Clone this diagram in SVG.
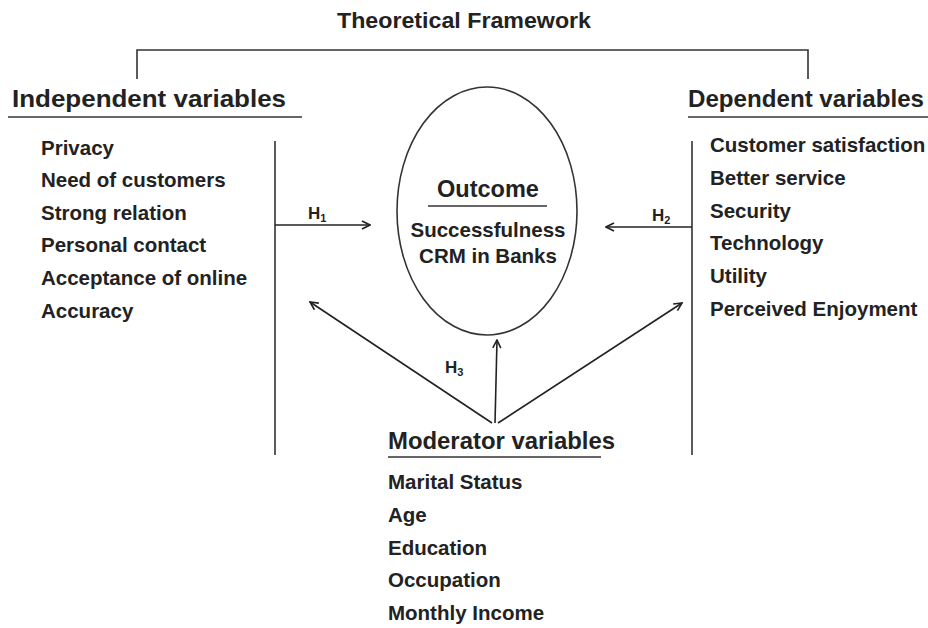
<svg xmlns="http://www.w3.org/2000/svg" width="928" height="628" viewBox="0 0 928 628">
<defs>
<marker id="ah" viewBox="0 0 10 10" refX="9" refY="5" markerWidth="10" markerHeight="10" markerUnits="userSpaceOnUse" orient="auto">
<path d="M1,1 L9,5 L1,9" fill="none" stroke="#222" stroke-width="1.6"/>
</marker>
<style>
text{font-family:"Liberation Sans",Arial,sans-serif;font-weight:bold;fill:#222}
.h{font-size:24px}
.t{font-size:20.5px}
.sub{font-size:11px}
.ln{stroke:#333;stroke-width:1.6;fill:none}
.ar{stroke:#222;stroke-width:1.6;fill:none;marker-end:url(#ah)}
</style>
</defs>
<rect width="928" height="628" fill="#fff"/>
<g id="title">
<text x="464" y="28" text-anchor="middle" style="font-size:22px" textLength="254" lengthAdjust="spacingAndGlyphs">Theoretical Framework</text>
<path class="ln" d="M137,79 V50 H808 V79"/>
</g>
<g id="independent">
<text class="h" x="12" y="107" textLength="274" lengthAdjust="spacingAndGlyphs">Independent variables</text>
<line class="ln" x1="8" y1="117" x2="302" y2="117"/>
<text class="t" x="41" y="155">Privacy</text>
<text class="t" x="41" y="187">Need of customers</text>
<text class="t" x="41" y="220">Strong relation</text>
<text class="t" x="41" y="252">Personal contact</text>
<text class="t" x="41" y="285">Acceptance of online</text>
<text class="t" x="41" y="318">Accuracy</text>
<line class="ln" x1="275" y1="141" x2="275" y2="455"/>
</g>
<g id="dependent">
<text class="h" x="688" y="107" textLength="236" lengthAdjust="spacingAndGlyphs">Dependent variables</text>
<line class="ln" x1="688" y1="117" x2="928" y2="117"/>
<text class="t" x="710" y="152">Customer satisfaction</text>
<text class="t" x="710" y="185">Better service</text>
<text class="t" x="710" y="218">Security</text>
<text class="t" x="710" y="250">Technology</text>
<text class="t" x="710" y="283">Utility</text>
<text class="t" x="710" y="316">Perceived Enjoyment</text>
<line class="ln" x1="692" y1="141" x2="692" y2="455"/>
</g>
<g id="outcome">
<ellipse class="ln" cx="487" cy="211" rx="90" ry="124"/>
<text x="488" y="197" text-anchor="middle" style="font-size:23.5px">Outcome</text>
<line class="ln" x1="428" y1="206" x2="547" y2="206"/>
<text class="t" x="488" y="237" text-anchor="middle">Successfulness</text>
<text class="t" x="488" y="263" text-anchor="middle">CRM in Banks</text>
</g>
<g id="moderator">
<text class="h" x="388" y="449" textLength="227" lengthAdjust="spacingAndGlyphs">Moderator variables</text>
<line class="ln" x1="388" y1="457" x2="601" y2="457"/>
<text class="t" x="388" y="489">Marital Status</text>
<text class="t" x="388" y="522">Age</text>
<text class="t" x="388" y="555">Education</text>
<text class="t" x="388" y="587">Occupation</text>
<text class="t" x="388" y="620">Monthly Income</text>
</g>
<g id="connectors">
<line class="ar" x1="275" y1="225" x2="370" y2="225"/>
<line class="ar" x1="692" y1="227" x2="606" y2="227"/>
<line class="ar" x1="492" y1="423" x2="310" y2="302"/>
<line class="ar" x1="495" y1="423" x2="497" y2="340"/>
<line class="ar" x1="498" y1="423" x2="682" y2="303"/>
<text style="font-size:17px" x="308" y="219">H<tspan class="sub" dy="3">1</tspan></text>
<text style="font-size:17px" x="652" y="221">H<tspan class="sub" dy="3">2</tspan></text>
<text style="font-size:17px" x="445" y="373">H<tspan class="sub" dy="3">3</tspan></text>
</g>
</svg>
